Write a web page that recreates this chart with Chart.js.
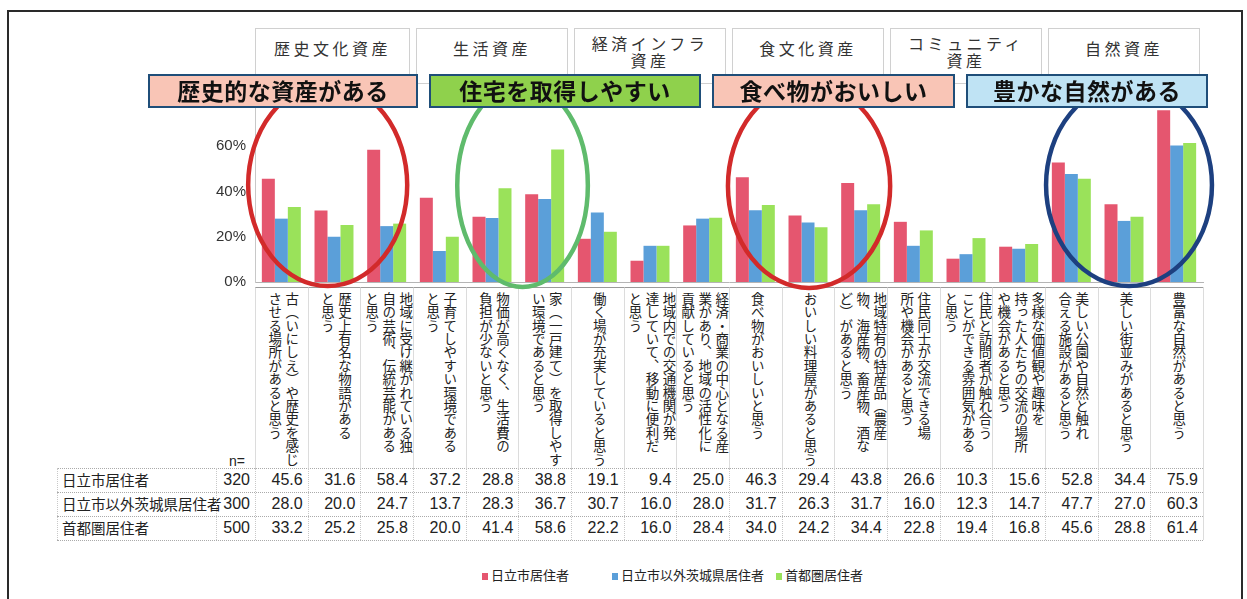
<!DOCTYPE html>
<html><head><meta charset="utf-8">
<script src="https://cdn.jsdelivr.net/npm/chart.js@4.4.1/dist/chart.umd.min.js"></script>
<style>
html,body{margin:0;padding:0;background:#fff;}
body{width:1247px;height:599px;position:relative;overflow:hidden;font-family:"Noto Sans CJK JP","Noto Sans",sans-serif;color:#222;}
#frame{position:absolute;left:7px;top:10px;width:1236px;height:610px;border:2px solid #2a2a2a;box-sizing:border-box;z-index:0;}
#cv{position:absolute;left:0;top:0;z-index:2;}
.hdr{position:absolute;top:28px;height:56px;border:1px solid #d0d0d0;box-sizing:border-box;text-align:center;font-size:16px;letter-spacing:3.5px;color:#333;line-height:17px;z-index:1;background:#fff;}
.hl{position:absolute;top:74px;height:34px;border:2.5px solid #1f4e79;box-sizing:border-box;text-align:center;font-weight:bold;font-size:23px;line-height:29px;color:#111;z-index:3;letter-spacing:0.5px;}
.vcell{position:absolute;top:287px;height:181px;box-sizing:border-box;border-left:1px solid #dcdcdc;border-top:1px solid #9a9a9a;display:flex;justify-content:center;z-index:1;}
.vtxt{writing-mode:vertical-rl;text-orientation:mixed;white-space:pre;font-size:13.5px;letter-spacing:-0.1px;line-height:17px;padding-top:4px;padding-left:3px;color:#222;}
.row{position:absolute;left:57px;width:1146px;height:24px;border-top:1px dotted #aaa;box-sizing:border-box;z-index:1;}
.lab{position:absolute;left:62px;font-size:14.5px;line-height:24px;color:#222;z-index:1;}
.num{position:absolute;font-family:"Liberation Sans",Arial,sans-serif;font-size:16px;line-height:24px;text-align:right;color:#222;z-index:1;}
.vline{position:absolute;border-left:1px dotted #c8c8c8;z-index:1;}
.leg{position:absolute;top:566px;font-size:13px;line-height:18px;color:#222;z-index:1;white-space:nowrap;}
.leg i{display:inline-block;width:6px;height:7px;margin-right:3px;vertical-align:0px;}
</style></head>
<body>
<div id="frame"></div>
<canvas id="cv" width="1247" height="599"></canvas>
<script>
// ---- data ----
const categories = [
  ['古（いにしえ）や歴史を感じ','させる場所があると思う'],
  ['歴史上有名な物語がある','と思う'],
  ['地域に受け継がれている独','自の芸術、伝統芸能がある','と思う'],
  ['子育てしやすい環境である','と思う'],
  ['物価が高くなく、生活費の','負担が少ないと思う'],
  ['家（一戸建て）を取得しやす','い環境であると思う'],
  ['働く場が充実していると思う'],
  ['地域内での交通機関が発','達していて、移動に便利だ','と思う'],
  ['経済・商業の中心となる産','業があり、地域の活性化に','貢献していると思う'],
  ['食べ物がおいしいと思う'],
  ['おいしい料理屋があると思う'],
  ['地域特有の特産品（農産','物、海産物、畜産物、酒な','ど）があると思う'],
  ['住民同士が交流できる場','所や機会があると思う'],
  ['住民と訪問者が触れ合う','ことができる雰囲気がある','と思う'],
  ['多様な価値観や趣味を','持った人たちの交流の場所','や機会があると思う'],
  ['美しい公園や自然と触れ','合える施設があると思う'],
  ['美しい街並みがあると思う'],
  ['豊富な自然があると思う']
];
const seriesNames = ['日立市居住者','日立市以外茨城県居住者','首都圏居住者'];
const sampleSizes = [320, 300, 500];
const hitachi  = [45.6,31.6,58.4,37.2,28.8,38.8,19.1,9.4,25.0,46.3,29.4,43.8,26.6,10.3,15.6,52.8,34.4,75.9];
const ibaraki  = [28.0,20.0,24.7,13.7,28.3,36.7,30.7,16.0,28.0,31.7,26.3,31.7,16.0,12.3,14.7,47.7,27.0,60.3];
const shutoken = [33.2,25.2,25.8,20.0,41.4,58.6,22.2,16.0,28.4,34.0,24.2,34.4,22.8,19.4,16.8,45.6,28.8,61.4];
const yTicks = [0, 20, 40, 60];
const groupNames = ['歴史文化資産','生活資産','経済インフラ\n資産','食文化資産','コミュニティ\n資産','自然資産'];
const highlightTexts = ['歴史的な資産がある','住宅を取得しやすい','食べ物がおいしい','豊かな自然がある'];

// ---- styling / layout ----
const barColors = ['#e5566f','#5b9fd9','#9ae25a'];
const hlFills = ['#f9c5b6','#8fd14c','#f9c5b6','#bfe3f4'];
const hlSpans = [[148,418],[429,701],[712,955],[966,1208]];
const ovals = [ // in column units from plot left; vertical in px
  {l:-0.13,r:2.89,t:84,b:286,c:'#d22a2a'},
  {l:3.84,r:6.32,t:84,b:287,c:'#5fbb6c'},
  {l:8.98,r:12.06,t:84,b:288,c:'#d22a2a'},
  {l:15.02,r:18.17,t:84,b:286,c:'#1d4080'}
];

const ovalPlugin = {
  id:'ovals',
  afterDatasetsDraw(c){
    const {ctx, chartArea:a} = c;
    const w = (a.right - a.left) / categories.length;
    ctx.save();
    ovals.forEach(o=>{
      const x1 = a.left + o.l*w, x2 = a.left + o.r*w;
      ctx.beginPath();
      ctx.ellipse((x1+x2)/2, (o.t+o.b)/2, (x2-x1)/2, (o.b-o.t)/2, 0, 0, Math.PI*2);
      ctx.lineWidth = 4.5; ctx.strokeStyle = o.c; ctx.stroke();
    });
    ctx.restore();
  }
};

const chart = new Chart(document.getElementById('cv'), {
  type:'bar',
  data:{
    labels: categories.map(a=>a.join('')),
    datasets:[
      {label:seriesNames[0], data:hitachi, backgroundColor:barColors[0]},
      {label:seriesNames[1], data:ibaraki, backgroundColor:barColors[1]},
      {label:seriesNames[2], data:shutoken, backgroundColor:barColors[2]}
    ]
  },
  options:{
    responsive:false, animation:false,
    layout:{padding:{left:195, right:44, top:101, bottom:317}},
    datasets:{bar:{categoryPercentage:0.74, barPercentage:1.0}},
    plugins:{legend:{display:false}, tooltip:{enabled:false}},
    scales:{
      x:{ticks:{display:false}, grid:{display:false, drawTicks:false}, border:{color:'#b5b5b5'},
         afterFit(s){ s.height = 0; }},
      y:{min:0, max:80,
         afterBuildTicks(s){ s.ticks = yTicks.map(v=>({value:v})); },
         ticks:{callback:v=>v+'%', font:{size:15, family:'Liberation Sans'}, color:'#333', padding:9},
         grid:{display:false, drawTicks:false}, border:{color:'#c8c8c8'},
         afterFit(s){ s.width = 60; }}
    }
  },
  plugins:[ovalPlugin]
});

// ---- HTML parts positioned from the chart's own scale ----
const A = chart.chartArea;
const colW = (A.right - A.left) / categories.length;
const body = document.body;
function el(cls, css, html){ const d=document.createElement('div'); d.className=cls; Object.assign(d.style, css); if(html!=null) d.innerHTML=html; body.appendChild(d); return d; }

// header group boxes
groupNames.forEach((g,i)=>{
  const l = A.left + i*3*colW, r = A.left + (i+1)*3*colW;
  const two = g.includes('\n');
  el('hdr', {left:(l+ (i?3:0))+'px', width:(r-l-(i?3:0)-3)+'px', paddingTop:(two?6:11)+'px'}, g.replace('\n','<br>'));
});
// highlight labels
highlightTexts.forEach((t,i)=>{
  el('hl', {left:hlSpans[i][0]+'px', width:(hlSpans[i][1]-hlSpans[i][0])+'px', background:hlFills[i]}, t);
});
// vertical category labels
categories.forEach((lines,i)=>{
  const c = el('vcell', {left:(A.left + i*colW)+'px', width:colW+'px'});
  const t = document.createElement('div'); t.className='vtxt'; t.textContent = lines.join('\n'); c.appendChild(t);
});
el('vline',{left:(A.left+categories.length*colW)+'px', top:'287px', height:'253px', borderLeft:'1px solid #dcdcdc'});
// table
const rowsData = [hitachi, ibaraki, shutoken];
const rowTop = 468, rowH = 24;
el('lab', {left:'229px', top:'449px', fontFamily:'Liberation Sans,Arial', fontSize:'14px'}, 'n=');
rowsData.forEach((vals,r)=>{
  const y = rowTop + r*rowH;
  el('row', {top:y+'px'});
  el('lab', {top:y+'px'}, seriesNames[r]);
  el('num', {left:'210px', width:'40px', top:y+'px'}, String(sampleSizes[r]));
  vals.forEach((v,i)=>{
    el('num', {left:(A.left+i*colW)+'px', width:(colW-5)+'px', top:y+'px'}, v.toFixed(1));
  });
});
el('row', {top:(rowTop+3*rowH)+'px', height:'1px'});
el('vline',{left:'57px', top:rowTop+'px', height:(3*rowH)+'px'});
el('vline',{left:'216px', top:rowTop+'px', height:(3*rowH)+'px'});
for(let i=0;i<categories.length;i++) el('vline',{left:(A.left+i*colW)+'px', top:rowTop+'px', height:(3*rowH)+'px'});
// legend
const legX = [482, 612, 776];
seriesNames.forEach((n,i)=>{
  el('leg', {left:legX[i]+'px'}, '<i style="background:'+barColors[i]+'"></i>'+n);
});
</script>
</body></html>
